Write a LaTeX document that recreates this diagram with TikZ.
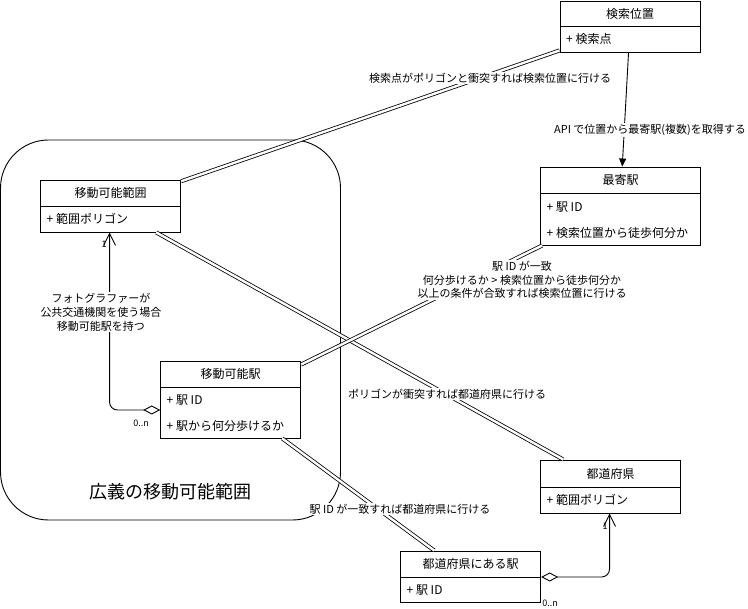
\documentclass[tikz,border=0pt]{standalone}
\usepackage{fontspec}
\setmainfont{Noto Sans CJK JP}
\usetikzlibrary{arrows.meta}
\begin{document}
\begin{tikzpicture}[x=1pt,y=-1pt,
  cls/.style={draw,line width=0.9pt,minimum width=140pt,inner sep=0pt},
  ttl/.style={font=\fontsize{12}{14}\selectfont,inner sep=0pt},
  attr/.style={font=\fontsize{12}{14}\selectfont,inner sep=0pt,anchor=west},
  lbl/.style={font=\fontsize{11}{13}\selectfont,fill=white,inner sep=1pt,align=center},
  mult/.style={font=\fontsize{9}{10}\selectfont,inner sep=0pt},
  link/.style={line width=0.8pt,double,double distance=2.4pt},
  assoc/.style={line width=0.9pt},
]
\useasboundingbox (0,0) rectangle (748,609);

% container
\draw[line width=0.9pt,rounded corners=48pt] (0.5,140) rectangle (340.5,520);
\node[font=\fontsize{18}{20}\selectfont,inner sep=0pt] (wide) at (170,492) {広義の移動可能範囲};

% classes
\node[cls,minimum height=51pt] (ken) at (630,26.5) {};
\draw[line width=0.9pt] (560,26) -- (700,26);
\node[ttl] (kenT) at (630,13.5) {検索位置};
\node[attr] (kenA) at (566,39) {+ 検索点};

\node[cls,minimum width=160pt,minimum height=78pt] (moy) at (620.7,206) {};
\draw[line width=0.9pt] (540.7,193) -- (700.7,193);
\node[ttl] (moyT) at (620.7,180) {最寄駅};
\node[attr] (moyA) at (546.5,207) {+ 駅 ID};
\node[attr] (moyB) at (546.5,233) {+ 検索位置から徒歩何分か};

\node[cls,minimum height=52pt] (hani) at (110.7,206) {};
\draw[line width=0.9pt] (40.7,206) -- (180.7,206);
\node[ttl] (haniT) at (110.7,193) {移動可能範囲};
\node[attr] (haniA) at (46.5,219) {+ 範囲ポリゴン};

\node[cls,minimum height=77pt] (eki) at (230.7,399.5) {};
\draw[line width=0.9pt] (160.7,387) -- (300.7,387);
\node[ttl] (ekiT) at (230.7,374) {移動可能駅};
\node[attr] (ekiA) at (166.5,400) {+ 駅 ID};
\node[attr] (ekiB) at (166.5,426) {+ 駅から何分歩けるか};

\node[cls,minimum height=53pt] (ken2) at (610.7,486.5) {};
\draw[line width=0.9pt] (540.7,487) -- (680.7,487);
\node[ttl] (ken2T) at (610.7,473.5) {都道府県};
\node[attr] (ken2A) at (546.5,500) {+ 範囲ポリゴン};

\node[cls,minimum height=51pt] (tde) at (470.7,576.5) {};
\draw[line width=0.9pt] (400.7,577) -- (540.7,577);
\node[ttl] (tdeT) at (470.7,564) {都道府県にある駅};
\node[attr] (tdeA) at (406.5,590) {+ 駅 ID};

% connectors
\draw[assoc,-{Triangle[length=8pt,width=7pt]}] ([xshift=69pt]ken.south west) -- ([xshift=82pt]moy.north west);
\draw[link] ([yshift=2pt]ken.south west) -- ([yshift=-1.7pt]hani.north east);
\draw[link] ([xshift=116pt]hani.south west) -- ([xshift=23pt]ken2.north west);
\draw[link] ([yshift=-4pt]eki.north east) -- ([xshift=2pt]moy.south west);
\draw[link] ([xshift=122pt]eki.south west) -- ([xshift=34pt]tde.north west);

\draw[assoc,rounded corners=8pt,{Diamond[open,length=17pt,width=9pt]}-{Straight Barb[length=12pt,width=12pt]}]
  ([yshift=-10.5pt]eki.west) -| ([xshift=69.3pt]hani.south west);
\draw[assoc,rounded corners=8pt,{Diamond[open,length=17pt,width=9pt]}-{Straight Barb[length=12pt,width=12pt]}]
  ([yshift=-0.5pt]tde.east) -| ([xshift=69.3pt]ken2.south west);

% labels
\node[lbl] (l1) at (490,78) {検索点がポリゴンと衝突すれば検索位置に行ける};
\node[lbl] (l2) at (650,130) {API で位置から最寄駅(複数)を取得する};
\node[lbl] (l3) at (447,394) {ポリゴンが衝突すれば都道府県に行ける};
\node[lbl,font=\fontsize{11}{13.5}\selectfont] (l4) at (522,280) {駅 ID が一致\\何分歩けるか > 検索位置から徒歩何分か\\以上の条件が合致すれば検索位置に行ける};
\node[lbl] (l5) at (400,509) {駅 ID が一致すれば都道府県に行ける};
\node[lbl,font=\fontsize{11}{14}\selectfont] (l6) at (101,312) {フォトグラファーが\\公共交通機関を使う場合\\移動可能駅を持つ};

\node[mult] (m1) at (104,244) {1};
\node[mult] (m2) at (141,423) {0..n};
\node[mult] (m3) at (605,526) {1};
\node[mult] (m4) at (550,603) {0..n};
\end{tikzpicture}
\end{document}
